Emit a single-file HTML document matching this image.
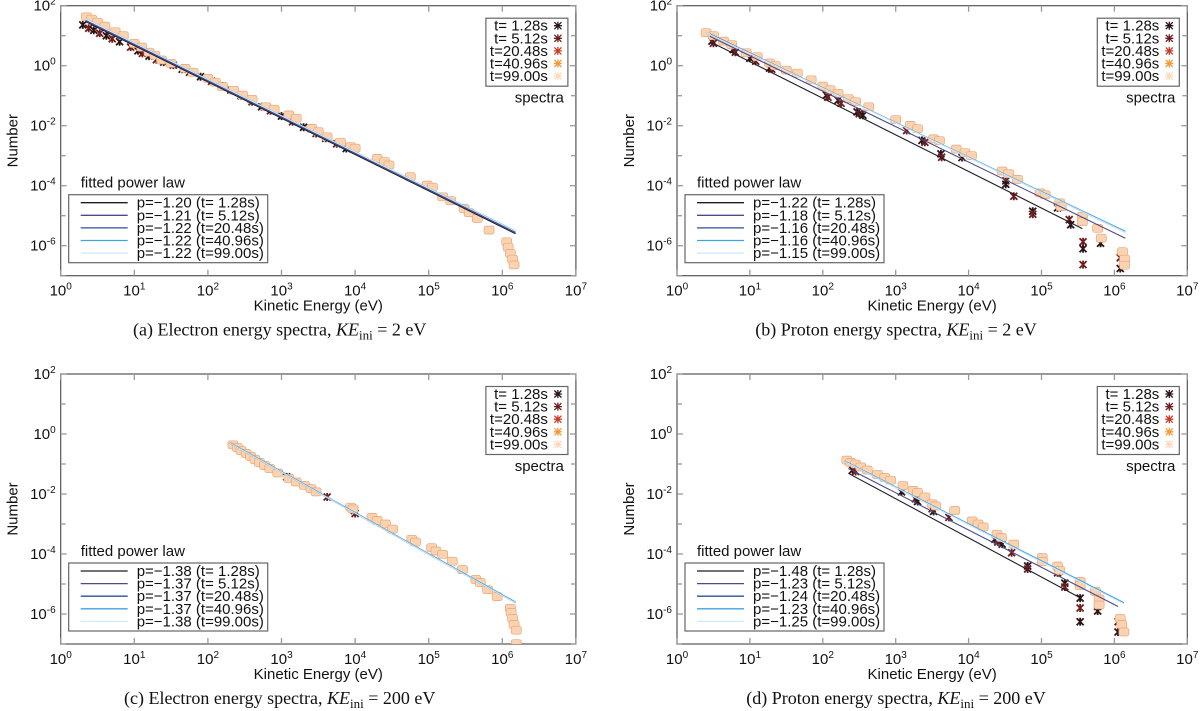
<!DOCTYPE html>
<html><head><meta charset="utf-8"><style>
html,body{margin:0;padding:0;background:#fff;}
svg{display:block;font-family:"Liberation Sans",sans-serif;}
</style></head><body>
<svg id="fig" width="1200" height="711" viewBox="0 0 1200 711"></svg>
<script>
// ---- data (log10 energy, log10 number) ----
const panelIds = ['a','b','c','d'];
const captions = ['(a) Electron energy spectra, ','(b) Proton energy spectra, ','(c) Electron energy spectra, ','(d) Proton energy spectra, '];
const captionKE = ['2 eV','2 eV','200 eV','200 eV'];
const seriesTimes = ['t= 1.28s','t= 5.12s','t=20.48s','t=40.96s','t=99.00s'];
const pA = ['-1.20','-1.21','-1.22','-1.22','-1.22'];
const pB = ['-1.22','-1.18','-1.16','-1.16','-1.15'];
const pC = ['-1.38','-1.37','-1.37','-1.37','-1.38'];
const pD = ['-1.48','-1.23','-1.24','-1.23','-1.25'];
const xTicks = [0,1,2,3,4,5,6,7];
const yTicks = [2,0,-2,-4,-6];
// fitted line endpoints [logE0, logN0, logE1, logN1]
const linesA = [[0.34,1.47,6.18,-5.60],[0.34,1.50,6.18,-5.56],[0.34,1.53,6.18,-5.54],[0.34,1.55,6.18,-5.51],[0.34,1.55,6.18,-5.52]];
const linesB = [[0.48,0.77,5.56,-5.43],[0.45,0.98,6.15,-5.75],[0.45,1.06,6.15,-5.55],[0.40,1.10,6.15,-5.52],[0.40,1.10,6.15,-5.55]];
const linesC = [[2.30,-0.31,6.18,-5.63],[2.30,-0.30,6.18,-5.62],[2.30,-0.30,6.18,-5.62],[2.30,-0.29,6.18,-5.60],[2.30,-0.31,6.18,-5.63]];
const linesD = [[2.35,-1.31,5.50,-5.42],[2.35,-1.15,6.05,-5.75],[2.30,-0.92,6.13,-5.64],[2.30,-0.90,6.13,-5.62],[2.30,-0.92,6.13,-5.66]];
// late-time (light) spectra points
const lateA = [[0.35,1.63],[0.42,1.55],[0.5,1.45],[0.6,1.32],[0.74,1.13],[0.85,1.0],[1.0,0.74],[1.1,0.62],[1.2,0.45],[1.28,0.35],[1.37,0.19],[1.5,0.08],[1.69,-0.09],[1.8,-0.22],[2.0,-0.42],[2.1,-0.55],[2.2,-0.7],[2.35,-0.82],[2.47,-0.98],[2.6,-1.12],[2.79,-1.37],[2.9,-1.45],[3.1,-1.64],[3.2,-1.75],[3.41,-2.09],[3.5,-2.2],[3.62,-2.37],[3.8,-2.55],[3.94,-2.7],[4.0,-2.75],[4.3,-3.09],[4.4,-3.2],[4.46,-3.31],[4.75,-3.7],[4.98,-3.98],[5.05,-4.05],[5.19,-4.37],[5.3,-4.5],[5.48,-4.76],[5.55,-4.9],[5.66,-5.09],[5.82,-5.48],[6.06,-5.87],[6.08,-6.05],[6.11,-6.26],[6.14,-6.45],[6.16,-6.64]];
const earlyA = [[0.3,1.36],[0.38,1.25],[0.45,1.18],[0.53,1.08],[0.62,1.0],[0.7,0.9],[0.8,0.8],[0.95,0.62],[1.05,0.5],[1.11,0.41],[1.2,0.32],[1.3,0.2],[1.4,0.12],[1.53,0.02],[1.65,-0.12],[1.75,-0.22],[1.9,-0.37],[2.05,-0.52],[2.2,-0.68],[2.31,-0.81],[2.45,-1.0],[2.6,-1.2],[2.73,-1.37],[2.85,-1.5],[3.0,-1.68],[3.15,-1.87],[3.3,-2.05],[3.47,-2.26],[3.6,-2.42],[3.75,-2.6],[3.88,-2.76]];
const lateB = [[0.4,1.1],[0.5,1.0],[0.64,0.82],[0.75,0.7],[0.95,0.43],[1.1,0.3],[1.27,0.09],[1.35,0.0],[1.5,-0.15],[1.65,-0.25],[1.84,-0.47],[2.0,-0.68],[2.1,-0.8],[2.21,-0.92],[2.35,-1.1],[2.45,-1.2],[2.63,-1.37],[3.0,-1.8],[3.2,-1.99],[3.3,-2.1],[3.52,-2.44],[3.6,-2.5],[3.83,-2.78],[3.95,-2.9],[4.04,-3.0],[4.46,-3.51],[4.55,-3.6],[4.67,-3.79],[4.98,-4.24],[5.05,-4.3],[5.25,-4.57],[5.27,-4.7],[5.56,-5.02],[5.56,-5.2],[5.77,-5.42],[5.82,-5.75],[6.11,-6.2],[6.14,-6.45],[6.14,-6.65]];
const earlyB = [[0.48,0.82],[0.5,0.75],[0.77,0.54],[0.8,0.45],[1.0,0.25],[1.08,0.15],[1.27,-0.08],[1.3,-0.12],[2.05,-0.98],[2.07,-1.05],[2.21,-1.15],[2.25,-1.25],[2.47,-1.54],[2.5,-1.6],[2.55,-1.65],[3.15,-2.16],[3.36,-2.49],[3.4,-2.55],[3.62,-2.94],[3.63,-3.05],[3.91,-3.06],[4.51,-3.84],[4.51,-3.95],[4.62,-4.35],[4.88,-4.85],[4.88,-4.95],[5.22,-4.74],[5.38,-5.13],[5.4,-5.3],[5.57,-5.87],[5.57,-6.1],[5.57,-6.63],[5.81,-5.92],[6.08,-6.4],[6.08,-6.76]];
const lateC = [[2.34,-0.36],[2.4,-0.45],[2.45,-0.55],[2.52,-0.65],[2.58,-0.75],[2.64,-0.85],[2.7,-0.95],[2.77,-1.05],[2.84,-1.15],[2.95,-1.3],[3.1,-1.48],[3.2,-1.6],[3.31,-1.71],[3.4,-1.82],[3.47,-1.93],[3.94,-2.44],[3.97,-2.5],[4.23,-2.78],[4.3,-2.88],[4.41,-3.0],[4.51,-3.17],[4.77,-3.51],[4.82,-3.6],[5.04,-3.79],[5.1,-3.9],[5.19,-4.01],[5.32,-4.24],[5.46,-4.52],[5.64,-4.85],[5.7,-4.95],[5.8,-5.19],[5.93,-5.42],[6.11,-5.81],[6.12,-5.95],[6.14,-6.15],[6.16,-6.35],[6.19,-6.54],[6.19,-6.99]];
const earlyC = [[3.07,-1.43],[3.62,-2.1],[3.99,-2.55],[4.0,-2.65]];
const lateD = [[2.33,-0.87],[2.38,-0.95],[2.45,-1.0],[2.52,-1.1],[2.61,-1.2],[2.75,-1.35],[2.85,-1.45],[2.93,-1.54],[3.1,-1.72],[3.24,-1.88],[3.3,-1.95],[3.4,-2.1],[3.5,-2.33],[3.55,-2.4],[3.81,-2.55],[4.05,-2.9],[4.13,-3.0],[4.2,-3.1],[4.39,-3.34],[4.45,-3.45],[4.62,-3.67],[5.01,-4.12],[5.01,-4.25],[5.22,-4.4],[5.25,-4.55],[5.53,-4.91],[5.53,-5.05],[5.74,-5.25],[5.79,-5.5],[5.79,-5.7],[6.08,-6.15],[6.1,-6.35],[6.13,-6.6]];
const earlyD = [[2.41,-1.2],[2.45,-1.25],[3.08,-1.93],[3.27,-2.16],[3.3,-2.25],[3.5,-2.49],[3.52,-2.58],[3.73,-2.78],[4.36,-3.51],[4.4,-3.6],[4.46,-3.67],[4.59,-3.96],[4.81,-4.4],[4.81,-4.5],[5.01,-4.24],[5.22,-4.63],[5.32,-4.97],[5.32,-5.1],[5.53,-5.47],[5.53,-5.8],[5.53,-6.26],[5.77,-5.75],[5.77,-5.9],[6.05,-6.26],[6.05,-6.6]];

const pVals = [pA,pB,pC,pD];
const fitLines = [linesA,linesB,linesC,linesD];
const lateSets = [lateA,lateB,lateC,lateD];
const earlySets = [earlyA,earlyB,earlyC,earlyD];

const NS='http://www.w3.org/2000/svg';
const svg=document.getElementById('fig');
const lineColors=['#1c1c2c','#4a4a8c','#2e4f9e','#3fa3e3','#cfe9f7'];
const markColors=['#2a1414','#6e1c1c','#c83a28','#f29a3a','#fdd9bb'];
const lefts=[60.7,677,60.7,677], tops=[5.7,5.7,374,374];
const dxs=[73.6,72.9,73.6,72.9];
const H=270, DY=30;

function mk(tag,attrs,parent){const e=document.createElementNS(NS,tag);for(const k in attrs)e.setAttribute(k,attrs[k]);(parent||svg).appendChild(e);return e;}

panelIds.forEach((pid,i)=>{
  const L=lefts[i],T=tops[i],DX=dxs[i],W=DX*7;
  const xs=v=>L+v*DX, ys=v=>T+(2-v)*DY;
  const g=mk('g',{});
  
  
  const fr=mk('rect',{x:L,y:T,width:W,height:H,fill:'none',stroke:'#555','stroke-width':1.2},g);
  
  
  xTicks.forEach(t=>{
    const x=xs(t);
    mk('line',{x1:x,y1:T+H,x2:x,y2:T+H-6,stroke:'#999','stroke-width':1.3},g);
    mk('line',{x1:x,y1:T,x2:x,y2:T+6,stroke:'#999','stroke-width':1.3},g);
    const tx=mk('text',{x:x,y:T+H+20,'font-size':15,'text-anchor':'middle',fill:'#111'},g);
    
    
    tx.innerHTML='10<tspan dy="-6" font-size="10">'+t+'</tspan>';
  });
  for(let v=-7;v<=2;v++){
    const y=ys(v);
    const len=(v%2===0)?6:5;
    mk('line',{x1:L,y1:y,x2:L+len,y2:y,stroke:'#999','stroke-width':1.3},g);
    mk('line',{x1:L+W,y1:y,x2:L+W-len,y2:y,stroke:'#999','stroke-width':1.3},g);
  }
  yTicks.forEach(t=>{
    const ty=mk('text',{x:L-5,y:ys(t)+5,'font-size':15,'text-anchor':'end',fill:'#111'},g);
    
    
    ty.innerHTML='10<tspan dy="-6" font-size="10">'+(t<0?'-'+(-t):t)+'</tspan>';
  });
  const yt=mk('text',{x:0,y:0,'font-size':15,'text-anchor':'middle',fill:'#111',transform:`translate(${L-43},${T+H/2}) rotate(-90)`},g);
  
  
  yt.textContent='Number';
  const xt=mk('text',{x:L+W/2,y:T+H+35,'font-size':15,'text-anchor':'middle',fill:'#111'},g);
  
  
  xt.textContent='Kinetic Energy (eV)';
  const cp=mk('text',{x:L+219,y:T+H+60,'font-size':18,'text-anchor':'middle',fill:'#111','font-family':'"Liberation Serif",serif'},g);
  
  
  cp.innerHTML=captions[i]+'<tspan font-style="italic">KE</tspan><tspan font-size="13" dy="4">ini</tspan><tspan dy="-4"> = '+captionKE[i]+'</tspan>';
  const cid='clip'+pid;
  const cpth=mk('clipPath',{id:cid},g); mk('rect',{x:L,y:T,width:W,height:H},cpth);
  const data=mk('g',{'clip-path':`url(#${cid})`},g);
  earlySets[i].forEach((pt,k)=>{
    const x=xs(pt[0]),y=ys(pt[1]);
    const c=markColors[k%2];
    const m=mk('path',{d:`M${x-3.5},${y-3.5}L${x+3.5},${y+3.5}M${x-3.5},${y+3.5}L${x+3.5},${y-3.5}M${x},${y-4}L${x},${y+4}`,stroke:c,'stroke-width':1.8},data);
    
    
  });
  lateSets[i].forEach(pt=>{
    const x=xs(pt[0]),y=ys(pt[1]);
    const r=mk('rect',{x:x-5,y:y-4,width:10,height:8,rx:2,fill:'#fbd3b0',stroke:'#e8a57a','stroke-width':0.7},data);
    
    
  });
  fitLines[i].forEach((ln,k)=>{
    const l=mk('line',{x1:xs(ln[0]),y1:ys(ln[1]),x2:xs(ln[2]),y2:ys(ln[3]),stroke:lineColors[k],'stroke-width':1.1},data);
    
    
  });
  const R=L+W;
  const sg=mk('g',{},g);
  
  
  mk('rect',{x:R-90,y:T+12.5,width:82,height:68,fill:'#fff',stroke:'#666','stroke-width':1.2},sg);
  seriesTimes.forEach((s,k)=>{
    const yy=T+20+k*12.6;
    const tt=mk('text',{x:R-28,y:yy+5,'font-size':15,'text-anchor':'end',fill:'#111'},sg);
    
    
    tt.textContent=s;
    const x=R-18;
    mk('path',{d:`M${x-3.5},${yy-3.5}L${x+3.5},${yy+3.5}M${x-3.5},${yy+3.5}L${x+3.5},${yy-3.5}M${x},${yy-4}L${x},${yy+4}M${x-4},${yy}L${x+4},${yy}`,stroke:markColors[k],'stroke-width':1.3},sg);
  });
  const st=mk('text',{x:R-12,y:T+97,'font-size':15,'text-anchor':'end',fill:'#111'},sg);
  
  
  st.textContent='spectra';
  const fg=mk('g',{},g);
  
  
  const ft=mk('text',{x:L+20,y:T+182,'font-size':15,fill:'#111'},fg);
  
  
  ft.textContent='fitted power law';
  mk('rect',{x:L+8,y:T+189,width:199,height:68,fill:'#fff',stroke:'#666','stroke-width':1.2},fg);
  seriesTimes.forEach((s,k)=>{
    const yy=T+197+k*12.6;
    mk('line',{x1:L+20,y1:yy,x2:L+67,y2:yy,stroke:lineColors[k],'stroke-width':1.3},fg);
    const tt=mk('text',{x:L+76,y:yy+5,'font-size':15,fill:'#111'},fg);
    
    
    tt.textContent='p='+pVals[i][k].replace('-','\u2212')+' ('+s+')';
  });
});
</script>
</body></html>
